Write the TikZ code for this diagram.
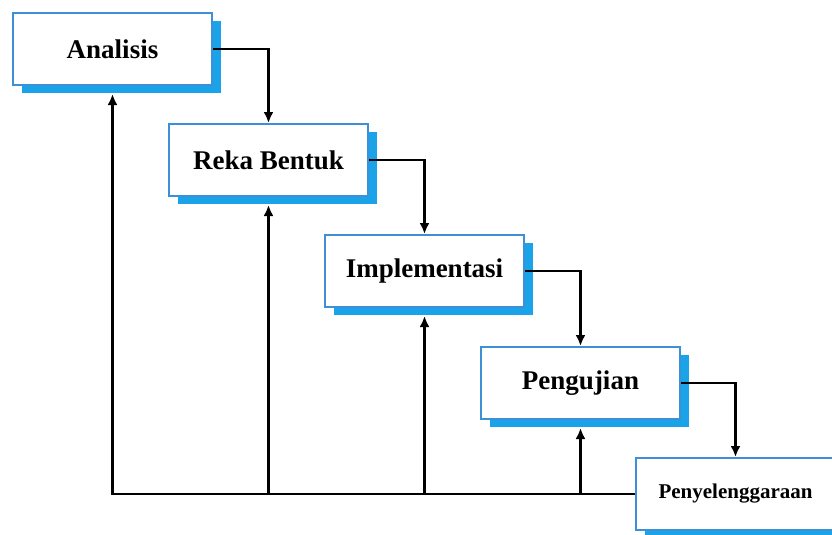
\documentclass[tikz,border=0pt]{standalone}
\usepackage{fontspec}
\setmainfont{Liberation Serif}
\usepackage{tikz}
\usetikzlibrary{arrows.meta}
\usetikzlibrary{positioning}
\usetikzlibrary{shadows}

\definecolor{boxblue}{HTML}{3D8FD6}
\definecolor{shadowblue}{HTML}{1AA3E8}

\tikzset{
	phase/.style={draw=boxblue,line width=2pt,fill=white,rectangle,
		minimum width=199pt,minimum height=72pt,
		font=\bfseries\fontsize{27}{30}\selectfont,
		drop shadow={shadow xshift=9pt,shadow yshift=-8pt,fill=shadowblue,opacity=1}},
	flow/.style={line width=2.4pt}
}

\begin{document}
\begin{tikzpicture}[x=1pt,y=1pt,>={Latex[length=11pt,width=10pt]}]
		\useasboundingbox (0,0) rectangle (832,-535);
		\node [phase] (analisis) at (112.5,-49) {Analisis};
		\node [phase] (reka) at ([shift={(156,-111)}]analisis) {Reka Bentuk};
		\node [phase] (implementasi) at ([shift={(156,-111)}]reka) {Implementasi};
		\node [phase] (pengujian) at ([shift={(156,-112)}]implementasi) {Pengujian};
		\node [phase,font=\bfseries\fontsize{21}{24}\selectfont] (penyelenggaraan) at ([shift={(155,-111)}]pengujian) {Penyelenggaraan};

		\draw [flow,->] (analisis) -| (reka);
		\draw [flow,->] (reka) -| (implementasi);
		\draw [flow,->] (implementasi) -| (pengujian);
		\draw [flow,->] (pengujian) -| (penyelenggaraan);

		\draw [flow,->] (penyelenggaraan.west) -| ([yshift=-8pt]analisis.south);
		\draw [flow,->] (penyelenggaraan.west) -| ([yshift=-8pt]reka.south);
		\draw [flow,->] (penyelenggaraan.west) -| ([yshift=-8pt]implementasi.south);
		\draw [flow,->] (penyelenggaraan.west) -| ([yshift=-8pt]pengujian.south);
	\end{tikzpicture}
\end{document}
